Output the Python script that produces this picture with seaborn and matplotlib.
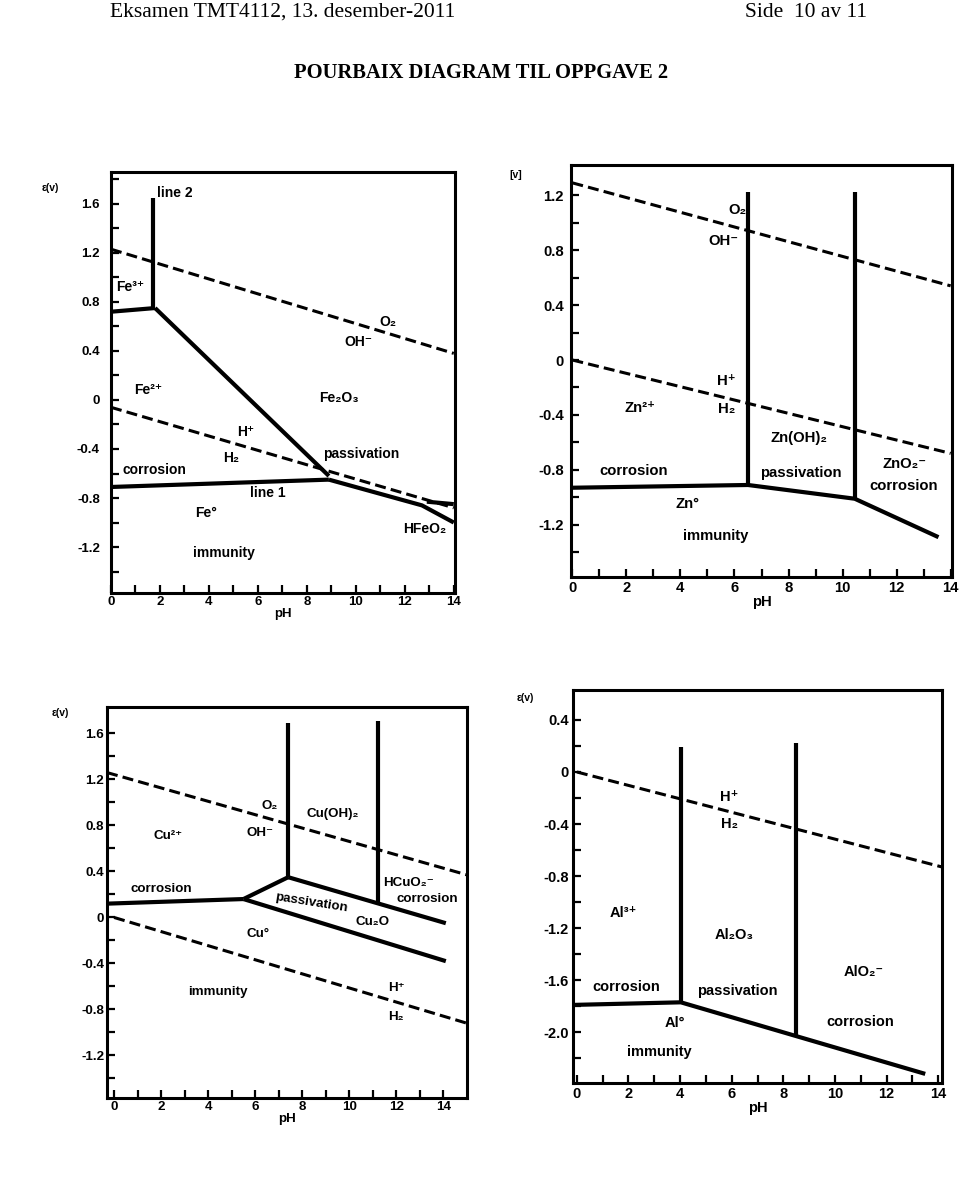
import numpy as np
import pandas as pd
import matplotlib
matplotlib.use("Agg")
import matplotlib.pyplot as plt
import seaborn as sns
from matplotlib.ticker import FixedLocator, FuncFormatter

sns.set_theme(style="white")
plt.rcParams['font.family'] = ['Liberation Sans', 'DejaVu Sans']
plt.rcParams['axes.unicode_minus'] = True
for k in ['text.color', 'axes.labelcolor', 'xtick.color', 'ytick.color', 'axes.edgecolor']:
    plt.rcParams[k] = 'black'

# ---------------- page texts ----------------
HEADER_LEFT = "Eksamen TMT4112, 13. desember-2011"
HEADER_RIGHT = "Side  10 av 11"
TITLE = "POURBAIX DIAGRAM TIL OPPGAVE 2"

# ---------------- Fe ----------------
fe_solid_ph = [[1.7, 1.7], [0.0, 1.8], [1.8, 8.9], [0.0, 8.9], [8.9, 12.7, 14.0], [12.9, 14.0]]
fe_solid_e = [[0.75, 1.65], [0.72, 0.75], [0.75, -0.62], [-0.71, -0.65], [-0.65, -0.86, -1.0], [-0.83, -0.85]]
fe_dash_ph = [[0.0, 14.0], [0.0, 14.0]]
fe_dash_e = [[1.23, 0.38], [-0.06, -0.88]]
fe_label_text = ["line 2", "Fe³⁺", "Fe²⁺", "O₂", "OH⁻", "Fe₂O₃", "H⁺", "H₂", "corrosion",
                 "passivation", "line 1", "Fe°", "immunity", "HFeO₂"]
fe_label_ph = [2.6, 0.8, 1.5, 11.3, 10.1, 9.3, 5.5, 4.9, 1.76, 10.2, 6.4, 3.9, 4.6, 12.8]
fe_label_e = [1.69, 0.92, 0.08, 0.64, 0.47, 0.02, -0.26, -0.47, -0.57, -0.44, -0.76, -0.92, -1.25, -1.05]

# ---------------- Zn ----------------
zn_solid_ph = [[6.5, 6.5], [10.45, 10.45], [0.0, 6.5, 10.45, 13.55]]
zn_solid_e = [[-0.91, 1.22], [-1.01, 1.22], [-0.93, -0.91, -1.01, -1.29]]
zn_dash_ph = [[0.0, 14.0], [0.0, 14.0]]
zn_dash_e = [[1.29, 0.54], [0.0, -0.68]]
zn_label_text = ["O₂", "OH⁻", "H⁺", "H₂", "Zn²⁺", "corrosion", "Zn(OH)₂", "passivation",
                 "ZnO₂⁻", "corrosion", "Zn°", "immunity"]
zn_label_ph = [6.1, 5.6, 5.7, 5.7, 2.5, 2.25, 8.4, 8.45, 12.3, 12.25, 4.25, 5.3]
zn_label_e = [1.09, 0.87, -0.15, -0.36, -0.35, -0.81, -0.57, -0.82, -0.76, -0.92, -1.05, -1.28]

# ---------------- Cu ----------------
cu_solid_ph = [[-0.3, 5.5], [5.5, 7.4], [7.4, 7.4], [7.4, 14.1], [11.2, 11.2], [5.5, 14.1]]
cu_solid_e = [[0.12, 0.16], [0.16, 0.35], [0.35, 1.69], [0.35, -0.05], [0.13, 1.71], [0.16, -0.38]]
cu_dash_ph = [[-0.3, 15.0], [0.0, 15.0]]
cu_dash_e = [[1.26, 0.37], [0.0, -0.92]]
cu_label_text = ["Cu²⁺", "O₂", "OH⁻", "Cu(OH)₂", "corrosion", "passivation", "Cu₂O", "HCuO₂⁻",
                 "corrosion", "Cu°", "immunity", "H⁺", "H₂"]
cu_label_ph = [2.3, 6.6, 6.2, 9.3, 2.0, 8.4, 11.0, 12.5, 13.3, 6.1, 4.4, 12.0, 12.0]
cu_label_e = [0.71, 0.97, 0.73, 0.90, 0.25, 0.13, -0.04, 0.30, 0.16, -0.14, -0.65, -0.61, -0.87]

# ---------------- Al ----------------
al_solid_ph = [[4.03, 4.03], [8.5, 8.5], [-0.15, 4.03, 13.5]]
al_solid_e = [[-1.77, 0.19], [-2.02, 0.22], [-1.79, -1.77, -2.32]]
al_dash_ph = [[0.0, 14.15]]
al_dash_e = [[0.0, -0.73]]
al_label_text = ["H⁺", "H₂", "Al³⁺", "Al₂O₃", "AlO₂⁻", "corrosion", "passivation", "Al°",
                 "immunity", "corrosion"]
al_label_ph = [5.9, 5.9, 1.8, 6.1, 11.1, 1.9, 6.2, 3.8, 3.2, 11.0]
al_label_e = [-0.19, -0.40, -1.08, -1.25, -1.54, -1.65, -1.68, -1.93, -2.15, -1.92]

W, H = 960, 1178
fig = plt.figure(figsize=(W / 100, H / 100), dpi=100)
fig.patch.set_facecolor("white")


def px_axes(left, top, right, bottom):
    return fig.add_axes([left / W, 1 - bottom / H, (right - left) / W, (bottom - top) / H])


def fmt_e(v, _):
    if abs(v) < 1e-9:
        return "0"
    return f"{v:.1f}"


def draw_panel(ax, solid_ph, solid_e, dash_ph, dash_e, lab_t, lab_x, lab_y,
               xlim, ylim, ylabels, yminor, fs, tfs, ypad, xpad, rot=None):
    for xs, ys in zip(solid_ph, solid_e):
        sns.lineplot(x=xs, y=ys, ax=ax, color="black", linewidth=3.0, sort=False,
                     estimator=None, solid_capstyle="butt")
    for xs, ys in zip(dash_ph, dash_e):
        sns.lineplot(x=xs, y=ys, ax=ax, color="black", linewidth=2.2, sort=False,
                     estimator=None, linestyle=(0, (3.6, 1.7)))
    for t, x, y in zip(lab_t, lab_x, lab_y):
        r = 0
        if rot is not None and t in rot:
            r = rot[t]
        ax.text(x, y, t, ha="center", va="center", fontsize=fs, fontweight="bold",
                rotation=r, color="black", family=['Liberation Sans', 'DejaVu Sans'])
    ax.set_xlim(*xlim)
    ax.set_ylim(*ylim)
    ax.xaxis.set_major_locator(FixedLocator(list(range(0, 15))))
    ax.xaxis.set_major_formatter(FuncFormatter(
        lambda v, _: f"{int(round(v))}" if int(round(v)) % 2 == 0 else ""))
    ax.yaxis.set_major_locator(FixedLocator(yminor))
    ax.yaxis.set_major_formatter(FuncFormatter(
        lambda v, _: fmt_e(v, _) if any(abs(v - l) < 1e-6 for l in ylabels) else ""))
    ax.tick_params(axis="both", direction="in", length=5.5, width=1.6, top=False, right=False,
                   left=True, bottom=True, colors="black", labelsize=tfs)
    ax.tick_params(axis="y", pad=ypad)
    ax.tick_params(axis="x", pad=xpad)
    for lab in ax.get_xticklabels() + ax.get_yticklabels():
        lab.set_fontweight("bold")
    for s in ax.spines.values():
        s.set_visible(True)
        s.set_color("black")
        s.set_linewidth(2.2)
    ax.set_xlabel("pH", fontsize=tfs, fontweight="bold", labelpad=0, color="black")
    ax.set_ylabel("")
    ax.grid(False)
    ax.set_facecolor("white")


# Fe panel
ax1 = px_axes(111, 172, 455, 593)
draw_panel(ax1, fe_solid_ph, fe_solid_e, fe_dash_ph, fe_dash_e, fe_label_text, fe_label_ph, fe_label_e,
           (0, 14.05), (-1.575, 1.86), [1.6, 1.2, 0.8, 0.4, 0, -0.4, -0.8, -1.2],
           list(np.round(np.arange(-1.4, 1.81, 0.2), 2)), 10.0, 9.5, 8, 2)

# Zn panel
ax2 = px_axes(571, 165, 952, 577)
draw_panel(ax2, zn_solid_ph, zn_solid_e, zn_dash_ph, zn_dash_e, zn_label_text, zn_label_ph, zn_label_e,
           (-0.05, 14.05), (-1.58, 1.42), [1.2, 0.8, 0.4, 0, -0.4, -0.8, -1.2],
           list(np.round(np.arange(-1.4, 1.21, 0.2), 2)), 10.7, 10.7, 5, 3)

# Cu panel
ax3 = px_axes(107, 707, 467, 1098)
draw_panel(ax3, cu_solid_ph, cu_solid_e, cu_dash_ph, cu_dash_e, cu_label_text, cu_label_ph, cu_label_e,
           (-0.3, 15.0), (-1.57, 1.83), [1.6, 1.2, 0.8, 0.4, 0, -0.4, -0.8, -1.2],
           list(np.round(np.arange(-1.4, 1.61, 0.2), 2)), 9.6, 9.6, 2, 2,
           rot={"passivation": -9})

# Al panel
ax4 = px_axes(573, 690, 942, 1083)
draw_panel(ax4, al_solid_ph, al_solid_e, al_dash_ph, al_dash_e, al_label_text, al_label_ph, al_label_e,
           (-0.15, 14.15), (-2.39, 0.63), [0.4, 0, -0.4, -0.8, -1.2, -1.6, -2.0],
           list(np.round(np.arange(-2.2, 0.41, 0.2), 2)), 10.5, 10.5, 3, 3)

# unit labels
for (px, py, t) in [(50, 188, "ε(v)"), (516, 175, "[v]"), (60, 713, "ε(v)"), (525, 698, "ε(v)")]:
    fig.text(px / W, 1 - py / H, t, fontsize=7.5, fontweight="bold", ha="center", va="center",
             color="black", family=['Liberation Sans', 'DejaVu Sans'])

# header
fig.text(110 / W, 1 - 3 / H, HEADER_LEFT, fontsize=15.5, family="Liberation Serif",
         ha="left", va="top", color="black")
fig.text(745 / W, 1 - 3 / H, HEADER_RIGHT, fontsize=15.5, family="Liberation Serif",
         ha="left", va="top", color="black")
fig.text(481 / W, 1 - 73 / H, TITLE, fontsize=14.8, family="Liberation Serif", fontweight="bold",
         ha="center", va="center", color="black")

fig.savefig("out.png", dpi=100, facecolor="white")
